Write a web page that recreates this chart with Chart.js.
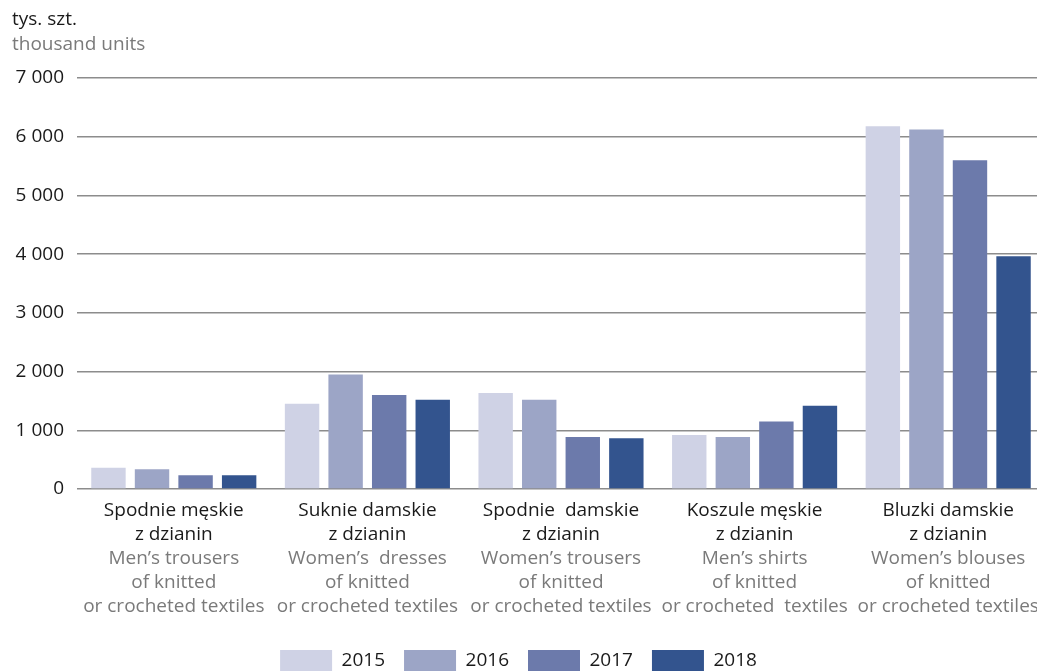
<!DOCTYPE html>
<html>
<head>
<meta charset="utf-8">
<script src="https://cdn.jsdelivr.net/npm/chart.js"></script>
<style>
  html, body { margin: 0; padding: 0; background: #fff; }
  #wrap { position: relative; width: 1037px; height: 671px; }
</style>
</head>
<body>
<div id="wrap"><canvas id="prodChart"></canvas></div>
<script>
// dane - produkcja wyrobow z dzianin (tys. szt.)
var labelsPl = [
    ['Spodnie męskie', 'z dzianin'],
    ['Suknie damskie', 'z dzianin'],
    ['Spodnie  damskie', 'z dzianin'],
    ['Koszule męskie', 'z dzianin'],
    ['Bluzki damskie', 'z dzianin']
];
var labelsEn = [
    ['Men’s trousers', 'of knitted', 'or crocheted textiles'],
    ['Women’s  dresses', 'of knitted', 'or crocheted textiles'],
    ['Women’s trousers', 'of knitted', 'or crocheted textiles'],
    ['Men’s shirts', 'of knitted', 'or crocheted  textiles'],
    ['Women’s blouses', 'of knitted', 'or crocheted textiles']
];
var years = ['2015', '2016', '2017', '2018'];
var v2015 = [360, 1450, 1635, 920, 6180];
var v2016 = [335, 1950, 1520, 885, 6125];
var v2017 = [233, 1600, 885, 1150, 5600];
var v2018 = [233, 1520, 865, 1420, 3965];
var yTicks = [0, 1000, 2000, 3000, 4000, 5000, 6000, 7000];

var colors = ['#cfd2e5', '#9ca5c6', '#6c7aab', '#33548e'];
var FONT = '"Open Sans", "Noto Sans", sans-serif';

// podpisy osi X rysowane recznie (dwa kolory w jednej etykiecie)
var xLabelsPlugin = {
    id: 'xLabels',
    afterLayout: function(chart) {
        // os X troche szersza niz plotno (jak w oryginale)
        var x = chart.scales.x;
        x.right += 8;
        x.width += 8;
        x.configure();
        // legenda przy samej krawedzi
        var lg = chart.legend;
        if (lg) { lg.top += 11; lg.bottom += 11; }
    },
    afterDraw: function(chart) {
        var ctx = chart.ctx;
        var x = chart.scales.x;
        var top = chart.chartArea.bottom + 22;
        ctx.save();
        ctx.font = '19px ' + FONT;
        ctx.textAlign = 'center';
        ctx.textBaseline = 'middle';
        for (var i = 0; i < labelsPl.length; i++) {
            var px = x.getPixelForValue(i);
            var y = top;
            ctx.fillStyle = '#1a1a1a';
            labelsPl[i].forEach(function(t) { ctx.fillText(t, px, y); y += 24; });
            ctx.fillStyle = '#7a7a7a';
            labelsEn[i].forEach(function(t) { ctx.fillText(t, px, y); y += 24; });
        }
        // jednostka
        ctx.textAlign = 'left';
        ctx.fillStyle = '#1a1a1a';
        ctx.fillText('tys. szt.', 12, 20);
        ctx.fillStyle = '#7a7a7a';
        ctx.fillText('thousand units', 12, 45);
        ctx.restore();
    }
};

var ctx = document.getElementById('prodChart').getContext('2d');
var chart = new Chart(ctx, {
    type: 'bar',
    data: {
        labels: labelsPl.map(function(l) { return l.join(' '); }),
        datasets: [
            { label: years[0], data: v2015, backgroundColor: colors[0] },
            { label: years[1], data: v2016, backgroundColor: colors[1] },
            { label: years[2], data: v2017, backgroundColor: colors[2] },
            { label: years[3], data: v2018, backgroundColor: colors[3] }
        ]
    },
    options: {
        responsive: true,
        maintainAspectRatio: false,
        animation: false,
        layout: { padding: { top: 78, right: 0, left: 0, bottom: 0 } },
        datasets: { bar: { categoryPercentage: 0.9, barPercentage: 0.79 } },
        plugins: {
            legend: {
                position: 'bottom',
                labels: {
                    boxWidth: 52,
                    boxHeight: 22,
                    padding: 19,
                    color: '#1a1a1a',
                    font: { family: FONT, size: 19 }
                }
            },
            tooltip: { enabled: false }
        },
        scales: {
            x: {
                grid: { display: false },
                border: { display: false },
                ticks: { display: false },
                afterFit: function(s) { s.height = 131; }
            },
            y: {
                min: 0,
                max: 7000,
                afterBuildTicks: function(s) { s.ticks = yTicks.map(function(v) { return { value: v }; }); },
                afterFit: function(s) { s.width = 77; },
                grid: { color: '#8c8c8c', lineWidth: 1.5, drawTicks: false },
                border: { display: false },
                ticks: {
                    padding: 13,
                    color: '#1a1a1a',
                    font: { family: FONT, size: 19 },
                    callback: function(v) { return String(v).replace(/\B(?=(\d{3})+(?!\d))/g, ' '); }
                }
            }
        }
    },
    plugins: [xLabelsPlugin]
});
</script>
</body>
</html>
